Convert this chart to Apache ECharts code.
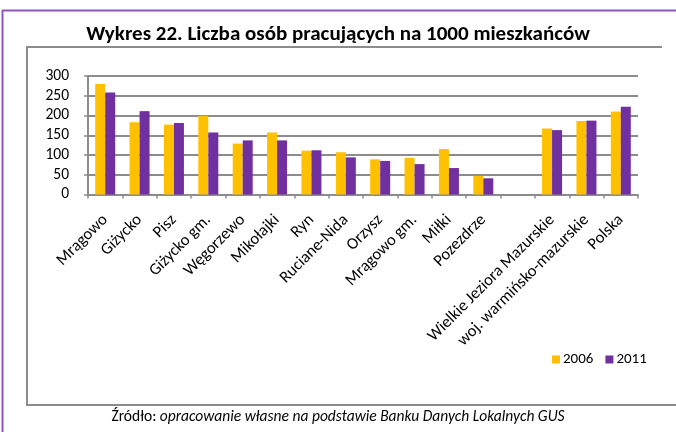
<!DOCTYPE html>
<html>
<head>
<meta charset="utf-8">
<script src="https://cdn.jsdelivr.net/npm/echarts@6/dist/echarts.min.js"></script>
<style>
  html, body { margin: 0; padding: 0; background: #fff; }
  #container { width: 676px; height: 432px; }
</style>
</head>
<body>
<div id="container"></div>
<script>
var categories = ['Mrągowo', 'Giżycko', 'Pisz', 'Giżycko gm.', 'Węgorzewo', 'Mikołajki', 'Ryn',
    'Ruciane-Nida', 'Orzysz', 'Mrągowo gm.', 'Miłki', 'Pozezdrze', '',
    'Wielkie Jeziora Mazurskie', 'woj. warmińsko-mazurskie', 'Polska'];
var values2006 = [280, 183, 177, 199, 129, 157, 111, 107, 89, 93, 115, 47, '-', 167, 186, 210];
var values2011 = [258, 211, 181, 157, 137, 137, 112, 94, 85, 77, 67, 41, '-', 163, 187, 222];
var yTicks = { min: 0, max: 300, interval: 50 };

var font = 'Carlito, Lato, sans-serif';
var dom = document.getElementById('container');
var myChart = echarts.init(dom);

var option = {
    animation: false,
    textStyle: { fontFamily: font },
    title: [
        {
            text: 'Wykres 22. Liczba osób pracujących na 1000 mieszkańców',
            left: 'center',
            top: 19,
            textStyle: { fontFamily: font, fontSize: 21, fontWeight: 'bold', color: '#000' }
        },
        {
            text: '{a|Źródło: }{b|opracowanie własne na podstawie Banku Danych Lokalnych GUS}',
            left: 'center',
            top: 404,
            textStyle: {
                fontWeight: 'normal',
                rich: {
                    a: { fontFamily: font, fontSize: 15.5, fontWeight: 'normal', color: '#000' },
                    b: { fontFamily: font, fontSize: 15.5, fontWeight: 'normal', fontStyle: 'italic', color: '#000' }
                }
            }
        }
    ],
    color: ['#FFC000', '#7030A0'],
    legend: {
        left: 547,
        top: 347,
        itemWidth: 8,
        itemHeight: 8,
        itemGap: 12,
        icon: 'rect',
        data: ['2006', '2011'],
        textStyle: { fontFamily: font, fontSize: 15, color: '#000', padding: [0, 0, 0, -2] }
    },
    grid: { left: 88, right: 38, top: 76, height: 118.5, containLabel: false },
    xAxis: {
        type: 'category',
        data: categories,
        axisLine: { lineStyle: { color: '#8c8c8c', width: 2 } },
        axisTick: { show: true, interval: 0, length: 4, lineStyle: { color: '#8c8c8c', width: 1.5 } },
        axisLabel: { interval: 0, rotate: 45, margin: 23, fontSize: 16.5, color: '#000', fontFamily: font }
    },
    yAxis: {
        type: 'value',
        min: yTicks.min,
        max: yTicks.max,
        interval: yTicks.interval,
        axisLine: { show: true, lineStyle: { color: '#8c8c8c', width: 2 } },
        axisTick: { show: true, length: 4, lineStyle: { color: '#8c8c8c', width: 1.5 } },
        axisLabel: { margin: 19, fontSize: 15.5, color: '#000', fontFamily: font },
        splitLine: { lineStyle: { color: '#8c8c8c', width: 2 } }
    },
    series: [
        { name: '2006', type: 'bar', data: values2006, barWidth: 10, barGap: '0%' },
        { name: '2011', type: 'bar', data: values2011, barWidth: 10, barGap: '0%' }
    ],
    graphic: [
        { type: 'line', shape: { x1: 2.5, y1: 10, x2: 2.5, y2: 432 }, style: { stroke: '#8e55bf', lineWidth: 2 } },
        { type: 'line', shape: { x1: 2, y1: 10.5, x2: 676, y2: 10.5 }, style: { stroke: '#8e55bf', lineWidth: 2 } },
        { type: 'line', shape: { x1: 27, y1: 47, x2: 662, y2: 47 }, style: { stroke: '#8c8c8c', lineWidth: 2 } },
        { type: 'line', shape: { x1: 27, y1: 46, x2: 27, y2: 405 }, style: { stroke: '#8c8c8c', lineWidth: 2 } },
        { type: 'line', shape: { x1: 26, y1: 405, x2: 676, y2: 405 }, style: { stroke: '#8c8c8c', lineWidth: 2 } }
    ]
};

if (option && typeof option === "object") {
    myChart.setOption(option, true);
}
</script>
</body>
</html>
